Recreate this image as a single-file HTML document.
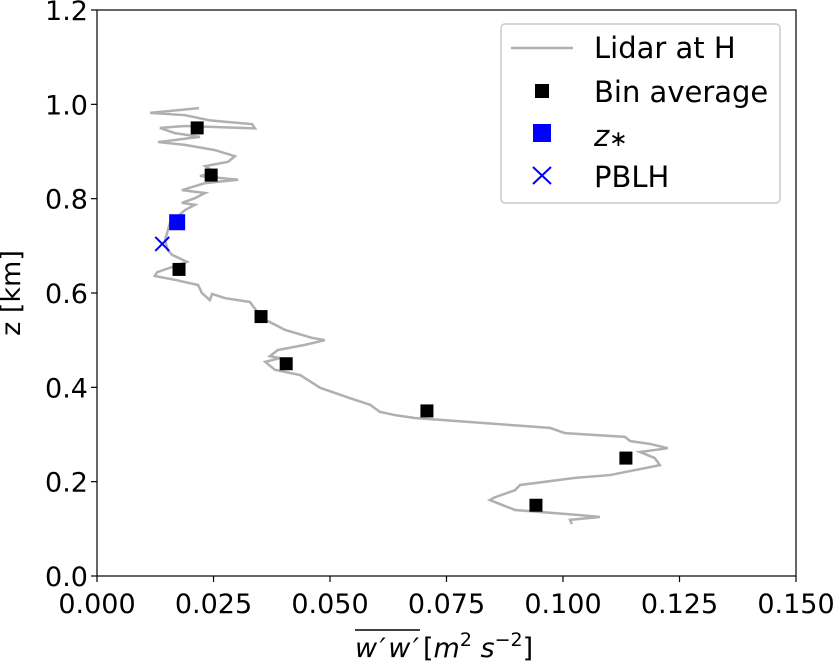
<!DOCTYPE html>
<html><head><meta charset="utf-8"><style>
body{margin:0;background:#fff;font-family:"Liberation Sans","DejaVu Sans",sans-serif;}
svg text{font-family:"DejaVu Sans","Liberation Sans",sans-serif;}
</style></head><body>
<svg id="chart" width="836" height="662" xmlns="http://www.w3.org/2000/svg"></svg>
<script>
const lidarX=[0.0219,0.0114,0.0189,0.0242,0.0333,0.0339,0.0253,0.0189,0.0135,0.0167,0.0221,0.0131,0.0189,0.0253,0.0296,0.0281,0.0232,0.0253,0.0221,0.0303,0.0232,0.0182,0.0232,0.0210,0.0182,0.0210,0.0189,0.0174,0.0157,0.0146,0.0152,0.0161,0.0193,0.0129,0.0124,0.0167,0.0217,0.0225,0.0242,0.0247,0.0275,0.0328,0.0354,0.0403,0.0461,0.0489,0.0446,0.0388,0.0371,0.0393,0.0361,0.0382,0.0436,0.0479,0.0543,0.0586,0.0607,0.0640,0.0682,0.0972,0.1004,0.1133,0.1144,0.1187,0.1225,0.1165,0.1197,0.1208,0.1101,0.1026,0.0908,0.0897,0.0854,0.0843,0.0897,0.1037,0.1079,0.1015,0.1019];
const lidarZ=[0.992,0.982,0.977,0.966,0.958,0.949,0.952,0.954,0.950,0.939,0.931,0.920,0.914,0.903,0.890,0.878,0.869,0.856,0.848,0.840,0.833,0.818,0.812,0.801,0.791,0.787,0.776,0.763,0.750,0.712,0.691,0.681,0.666,0.644,0.636,0.628,0.617,0.600,0.585,0.598,0.589,0.581,0.547,0.522,0.505,0.500,0.490,0.479,0.466,0.462,0.454,0.437,0.426,0.399,0.377,0.363,0.348,0.341,0.335,0.314,0.303,0.295,0.286,0.280,0.271,0.263,0.250,0.235,0.214,0.208,0.193,0.182,0.167,0.161,0.140,0.129,0.125,0.119,0.110];
const binX=[0.0215,0.0245,0.0176,0.0352,0.0406,0.0708,0.1135,0.0942];
const binZ=[0.95,0.85,0.65,0.55,0.45,0.35,0.25,0.15];
const zStarX=[0.0172], zStarZ=[0.75];
const pblhX=[0.0140], pblhZ=[0.704];
const xTicks=[0,0.025,0.05,0.075,0.1,0.125,0.15];
const xTickLabels=["0.000","0.025","0.050","0.075","0.100","0.125","0.150"];
const yTicks=[0,0.2,0.4,0.6,0.8,1.0,1.2];
const yTickLabels=["0.0","0.2","0.4","0.6","0.8","1.0","1.2"];

const L=97,R=796,T=10,B=576;
const sx=v=>L+(v-0)/0.15*(R-L);
const sy=v=>B-(v-0)/1.2*(B-T);
const svg=document.getElementById('chart');
const NS='http://www.w3.org/2000/svg';
function mk(tag,attrs,parent){const e=document.createElementNS(NS,tag);for(const k in attrs)e.setAttribute(k,attrs[k]);(parent||svg).appendChild(e);return e;}

const line=mk('polyline',{points:lidarX.map((x,i)=>sx(x)+','+sy(lidarZ[i])).join(' '),fill:'none',stroke:'#b0b0b0','stroke-width':2.5});


binX.forEach((x,i)=>{const r=mk('rect',{x:sx(x)-6.5,y:sy(binZ[i])-6.5,width:13,height:13,fill:'#000'});

});
zStarX.forEach((x,i)=>{const r=mk('rect',{x:sx(x)-8,y:sy(zStarZ[i])-8,width:16,height:16,fill:'#0000ff'});

});
pblhX.forEach((x,i)=>{const cx=sx(x),cy=sy(pblhZ[i]);const g=mk('path',{d:`M${cx-7},${cy-7}L${cx+7},${cy+7}M${cx-7},${cy+7}L${cx+7},${cy-7}`,stroke:'#0000ff','stroke-width':2,fill:'none'});

});

const fr=mk('rect',{x:L,y:T,width:R-L,height:B-T,fill:'none',stroke:'#000','stroke-width':1.2});


xTicks.forEach((t,i)=>{const x=sx(t);mk('line',{x1:x,x2:x,y1:B,y2:B+6,stroke:'#000','stroke-width':1.2});
const tx=mk('text',{x:x,y:B+37,'text-anchor':'middle','font-size':27});tx.textContent=xTickLabels[i];

});
yTicks.forEach((t,i)=>{const y=sy(t);mk('line',{x1:L-6,x2:L,y1:y,y2:y,stroke:'#000','stroke-width':1.2});
const tx=mk('text',{x:L-9,y:y+10,'text-anchor':'end','font-size':27});tx.textContent=yTickLabels[i];

});
</script>
<svg style="position:absolute;left:0;top:0" width="836" height="662" xmlns="http://www.w3.org/2000/svg">
<text x="20" y="293" transform="rotate(-90 20 293)" text-anchor="middle" font-size="27" font-family="DejaVu Sans,sans-serif">z [km]</text>
<g font-family="DejaVu Sans,sans-serif">
<line x1="355" x2="420" y1="630" y2="630" stroke="#000" stroke-width="1.5"/>
<text x="355" y="657" font-size="27" font-style="italic" textLength="64">w′w′</text>
<text x="423" y="657" font-size="27">[<tspan font-style="italic">m</tspan><tspan font-size="19" dy="-11">2</tspan><tspan dy="11"> </tspan><tspan font-style="italic">s</tspan><tspan font-size="19" dy="-11">−2</tspan><tspan dy="11">]</tspan></text>
</g>
<g font-family="DejaVu Sans,sans-serif" font-size="29">
<rect x="501" y="24" width="279" height="179" rx="4" fill="#fff" stroke="#ccc" stroke-width="1.5"/>
<line x1="511" x2="573" y1="48" y2="48" stroke="#b0b0b0" stroke-width="2.5"/>
<text x="594" y="58">Lidar at H</text>
<rect x="535" y="84" width="14" height="14" fill="#000"/>
<text x="594" y="102">Bin average</text>
<rect x="533" y="124" width="18" height="18" fill="#0000ff"/>
<text x="594" y="146" font-style="italic">z<tspan font-style="normal" font-size="22">∗</tspan></text>
<path d="M533,167L551,184M533,184L551,167" stroke="#0000ff" stroke-width="2"/>
<text x="594" y="187">PBLH</text>
</g>
</svg>
</body></html>
